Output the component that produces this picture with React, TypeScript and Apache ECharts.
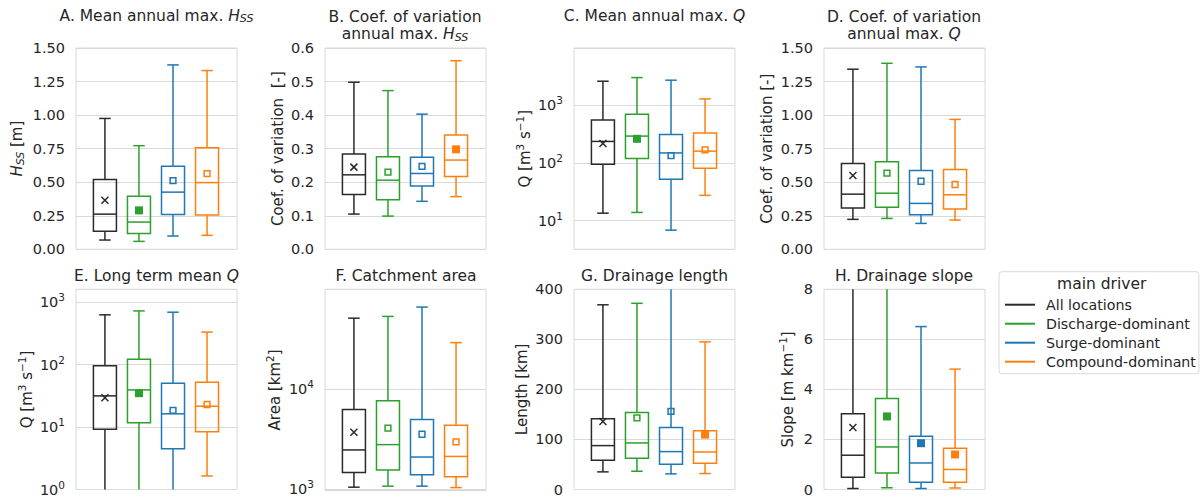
import React, { useEffect, useRef } from 'react';
import * as echarts from 'echarts';

// ---------- data ----------
const groups = ['All locations', 'Discharge-dominant', 'Surge-dominant', 'Compound-dominant'];
const groupColors = ['#2a2a2a', '#2ca02c', '#1f77b4', '#ff7f0e'];

// each row: [min (lower whisker), Q1, median, Q3, max (upper whisker), mean]
const statsA = [
  [0.069, 0.134, 0.262, 0.52, 0.975, 0.365],
  [0.059, 0.117, 0.203, 0.396, 0.772, 0.29],
  [0.099, 0.26, 0.426, 0.619, 1.374, 0.512],
  [0.104, 0.255, 0.497, 0.757, 1.332, 0.564],
];
const filledA = [false, true, false, false];

const statsB = [
  [0.105, 0.163, 0.222, 0.284, 0.498, 0.245],
  [0.099, 0.148, 0.206, 0.276, 0.473, 0.23],
  [0.143, 0.189, 0.226, 0.274, 0.403, 0.247],
  [0.157, 0.217, 0.266, 0.341, 0.562, 0.298],
];
const filledB = [false, false, false, true];

const statsC = [
  [13.4, 95, 236, 555, 2620, 217],
  [13.8, 119, 292, 697, 3030, 262],
  [6.8, 52, 149, 312, 2730, 134],
  [27.3, 81, 160, 329, 1290, 168],
];
const filledC = [false, true, false, false];

const statsD = [
  [0.223, 0.307, 0.411, 0.639, 1.342, 0.55],
  [0.23, 0.314, 0.418, 0.653, 1.386, 0.567],
  [0.193, 0.258, 0.342, 0.587, 1.359, 0.507],
  [0.218, 0.3, 0.406, 0.594, 0.968, 0.483],
];
const filledD = [false, false, false, false];

const statsE = [
  [0.4, 9.2, 31.6, 96, 628, 29.4],
  [0.4, 11.7, 39.4, 122, 726, 34.9],
  [0.3, 4.5, 16.3, 50.4, 692, 18.5],
  [1.65, 8.4, 21.6, 52.2, 332, 23],
];
const filledE = [false, true, false, false];

const statsF = [
  [1045, 1465, 2460, 6250, 50900, 3700],
  [1070, 1550, 2780, 7640, 53000, 4060],
  [1070, 1390, 2090, 4950, 65700, 3530],
  [1035, 1330, 2120, 4350, 29000, 2960],
];
const filledF = [false, false, false, false];

const statsG = [
  [35.2, 58.5, 87.7, 141.5, 369, 136],
  [36.5, 62.5, 93, 154, 372, 143],
  [31.2, 50.5, 75.7, 124, 480, 156],
  [31.9, 52.4, 75, 117.6, 295, 109.6],
];
const filledG = [false, false, false, true];

const statsH = [
  [0.04, 0.49, 1.37, 3.03, 9.8, 2.48],
  [0.07, 0.66, 1.7, 3.64, 9.5, 2.92],
  [0.04, 0.29, 1.06, 2.13, 6.51, 1.85],
  [0.06, 0.29, 0.8, 1.65, 4.81, 1.4],
];
const filledH = [false, true, true, true];

// ---------- style ----------
const FONT = 'DejaVu Sans';
const TXT = '#262626';
const GRIDC = '#d9d9d9';
const TICK_FS = 14.5;
const NAME_FS = 15;
const TITLE_FS = 15.5;
const LEGEND_FS = 14.2;
const BOX_W = 0.676;
const X_MIN = -0.85;
const X_MAX = 3.88;
const gridLefts = [76, 325, 574, 824];
const gridTops = [48, 289.3];
const GRID_W = 161;
const GRID_H = 201.3;

const richSmall = {
  i: { fontStyle: 'italic', fontFamily: FONT, color: TXT },
  s: { fontStyle: 'italic', fontSize: 11, fontFamily: FONT, color: TXT, padding: [6, 0, 0, 0] },
  p: { fontSize: 10.5, fontFamily: FONT, color: TXT, padding: [0, 0, 10, 0] },
};

type Panel = {
  stats: number[][];
  filled: boolean[];
  title: string;
  yName: string;
  nameGap: number;
  log: boolean;
  min: number;
  max: number;
  interval?: number;
  dec?: number;
};

const panels: Panel[] = [
  { stats: statsA, filled: filledA, title: 'A. Mean annual max. {i|H}{s|SS}', yName: '{i|H}{s|SS} [m]', nameGap: 50, log: false, min: 0, max: 1.5, interval: 0.25, dec: 2 },
  { stats: statsB, filled: filledB, title: 'B. Coef. of variation\nannual max. {i|H}{s|SS}', yName: 'Coef. of variation  [-]', nameGap: 38, log: false, min: 0, max: 0.6, interval: 0.1, dec: 1 },
  { stats: statsC, filled: filledC, title: 'C. Mean annual max. {i|Q}', yName: 'Q [m{p|3} s{p|−1}]', nameGap: 40, log: true, min: Math.pow(10, 0.5), max: Math.pow(10, 3.995) },
  { stats: statsD, filled: filledD, title: 'D. Coef. of variation\nannual max. {i|Q}', yName: 'Coef. of variation [-]', nameGap: 48, log: false, min: 0, max: 1.5, interval: 0.25, dec: 2 },
  { stats: statsE, filled: filledE, title: 'E. Long term mean {i|Q}', yName: 'Q [m{p|3} s{p|−1}]', nameGap: 40, log: true, min: 1, max: Math.pow(10, 3.207) },
  { stats: statsF, filled: filledF, title: 'F. Catchment area', yName: 'Area [km{p|2}]', nameGap: 41, log: true, min: Math.pow(10, 2.985), max: Math.pow(10, 4.995) },
  { stats: statsG, filled: filledG, title: 'G. Drainage length', yName: 'Length [km]', nameGap: 43, log: false, min: 0, max: 400, interval: 100, dec: 0 },
  { stats: statsH, filled: filledH, title: 'H. Drainage slope', yName: 'Slope [m km{p|−1}]', nameGap: 27, log: false, min: 0, max: 8, interval: 2, dec: 0 },
];

const titleCenters = [
  [156.5, 15.7], [405, 25.5], [654.5, 15.7], [904, 25.5],
  [156.5, 276.2], [406, 275.7], [654.5, 275.7], [904, 275.7],
];

function makeRender(color: string, isAll: boolean, filled: boolean) {
  return (params: any, api: any) => {
    const g = api.value(0);
    const mn = api.value(1), q1 = api.value(2), md = api.value(3), q3 = api.value(4), mx = api.value(5), mean = api.value(6);
    const cs = params.coordSys;
    const top = cs.y, bot = cs.y + cs.height;
    const c = api.coord([g, md]);
    const cx = c[0], yMd = c[1];
    const hw = api.coord([g + BOX_W / 2, md])[0] - cx;
    const cw = hw / 2;
    const yOf = (v: number) => api.coord([g, v])[1];
    const clamp = (y: number) => Math.max(top, Math.min(bot, y));
    const yMn = yOf(mn), yQ1 = yOf(q1), yQ3 = yOf(q3), yMx = yOf(mx), yMean = yOf(mean);
    const st = { stroke: color, lineWidth: 1.5, fill: 'none' };
    const line = (x1: number, y1: number, x2: number, y2: number) => ({ type: 'line', shape: { x1, y1, x2, y2 }, style: st });
    const ch: any[] = [];
    ch.push(line(cx, yQ3, cx, clamp(yMx)));
    if (yMx >= top) ch.push(line(cx - cw, yMx, cx + cw, yMx));
    ch.push(line(cx, yQ1, cx, clamp(yMn)));
    if (yMn <= bot) ch.push(line(cx - cw, yMn, cx + cw, yMn));
    ch.push({ type: 'rect', shape: { x: cx - hw, y: yQ3, width: 2 * hw, height: yQ1 - yQ3 }, style: st });
    ch.push(line(cx - hw, yMd, cx + hw, yMd));
    if (isAll) {
      const s = 3.5;
      ch.push(line(cx - s, yMean - s, cx + s, yMean + s));
      ch.push(line(cx - s, yMean + s, cx + s, yMean - s));
    } else if (filled) {
      ch.push({ type: 'rect', shape: { x: cx - 4, y: yMean - 4, width: 8, height: 8 }, style: { fill: color } });
    } else {
      ch.push({ type: 'rect', shape: { x: cx - 2.9, y: yMean - 2.9, width: 5.8, height: 5.8 }, style: { stroke: color, lineWidth: 1.5, fill: 'none' } });
    }
    return { type: 'group', children: ch };
  };
}

function logLabel(v: number) {
  const l = Math.log10(v);
  const r = Math.round(l);
  if (Math.abs(l - r) < 1e-6) return `{b|10}{p|${r}}`;
  return '';
}

function buildOption() {
  const grid: any[] = [];
  const xAxis: any[] = [];
  const yAxis: any[] = [];
  const series: any[] = [];
  const graphic: any[] = [];
  panels.forEach((p, i) => {
    const col = i % 4, row = Math.floor(i / 4);
    grid.push({
      left: gridLefts[col], top: gridTops[row], width: GRID_W, height: GRID_H,
      show: true, borderColor: GRIDC, borderWidth: 1, backgroundColor: 'transparent', containLabel: false,
    });
    xAxis.push({ type: 'value', gridIndex: i, min: X_MIN, max: X_MAX, show: false });
    const y: any = {
      type: p.log ? 'log' : 'value', gridIndex: i, min: p.min, max: p.max,
      axisLine: { show: false }, axisTick: { show: false },
      splitLine: { show: true, lineStyle: { color: GRIDC, width: 1 } },
      name: p.yName, nameLocation: 'middle', nameGap: p.nameGap, nameRotate: 90,
      nameTextStyle: { fontSize: NAME_FS, fontFamily: FONT, color: TXT, lineHeight: 18, rich: { ...richSmall, i: { ...richSmall.i, fontSize: NAME_FS } } },
      axisLabel: {
        fontSize: TICK_FS, fontFamily: FONT, color: TXT, margin: 11,
        formatter: p.log ? logLabel : (v: number) => v.toFixed(p.dec as number),
        rich: { b: { fontSize: TICK_FS, fontFamily: FONT, color: TXT }, p: { fontSize: 10.5, fontFamily: FONT, color: TXT, padding: [0, 0, 10, 0] } },
      },
    };
    if (p.log) y.logBase = 10; else y.interval = p.interval;
    yAxis.push(y);
    p.stats.forEach((s, g) => {
      series.push({
        type: 'custom', name: groups[g], xAxisIndex: i, yAxisIndex: i,
        itemStyle: { color: groupColors[g] },
        renderItem: makeRender(groupColors[g], g === 0, p.filled[g]),
        encode: { x: 0, y: [1, 2, 3, 4, 5, 6] },
        data: [[g, ...s]],
        silent: true,
      });
    });
    const tc = titleCenters[i];
    graphic.push({
      type: 'text', x: tc[0], y: tc[1], silent: true,
      style: {
        text: p.title, fontSize: TITLE_FS, fontFamily: FONT, fill: TXT, align: 'center', verticalAlign: 'middle', lineHeight: 17.6,
        rich: {
          i: { fontStyle: 'italic', fontSize: TITLE_FS, fontFamily: FONT, fill: TXT, color: TXT },
          s: { fontStyle: 'italic', fontSize: 11, fontFamily: FONT, fill: TXT, color: TXT, padding: [6, 0, 0, 0] },
        },
      },
    });
  });
  graphic.push({
    type: 'text', x: 1101.7, y: 284.3, silent: true,
    style: { text: 'main driver', fontSize: 15.5, fontFamily: FONT, fill: TXT, align: 'center', verticalAlign: 'middle' },
  });
  return {
    animation: false,
    backgroundColor: '#ffffff',
    textStyle: { fontFamily: FONT },
    grid, xAxis, yAxis, series, graphic,
    legend: {
      data: groups, orient: 'vertical', left: 999, top: 271.7,
      itemWidth: 30, itemHeight: 2, itemGap: 5, icon: 'rect',
      padding: [26, 3, 5, 6], borderColor: GRIDC, borderWidth: 1, borderRadius: 3,
      selectedMode: false,
      formatter: (n: string) => `{t|${n}}`,
      textStyle: { color: TXT, fontFamily: FONT, fontSize: LEGEND_FS, rich: { t: { fontSize: LEGEND_FS, fontFamily: FONT, color: TXT, padding: [0, 0, 0, 6], lineHeight: 16 } } },
    },
  };
}

export default function App() {
  const ref = useRef<HTMLDivElement>(null);
  useEffect(() => {
    if (!ref.current) return;
    const chart = echarts.init(ref.current, undefined, { renderer: 'svg' });
    chart.setOption(buildOption() as any);
    return () => chart.dispose();
  }, []);
  return <div ref={ref} style={{ position: 'absolute', left: 0, top: 0, width: 1200, height: 497 }} />;
}
